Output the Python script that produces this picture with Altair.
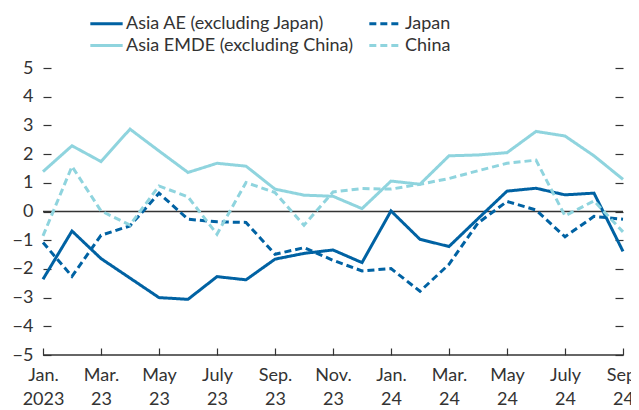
import json
import altair as alt
import pandas as pd

series = ["Asia AE (excluding Japan)", "Japan", "Asia EMDE (excluding China)", "China"]
colors = ["#0062a3", "#0062a3", "#8fd4de", "#8fd4de"]
dashes = [[1, 0], [7, 4], [1, 0], [7, 4]]

months = list(range(21))  # Jan 2023 .. Sep 2024
tick_values = [0, 2, 4, 6, 8, 10, 12, 14, 16, 18, 20]
tick_labels = ["Jan.|2023", "Mar.|23", "May|23", "July|23", "Sep.|23", "Nov.|23",
               "Jan.|24", "Mar.|24", "May|24", "July|24", "Sep.|24"]

asia_ae = [-2.36, -0.68, -1.64, -2.32, -3.0, -3.06, -2.27, -2.38, -1.66, -1.46, -1.34,
           -1.78, 0.02, -0.97, -1.22, -0.25, 0.71, 0.81, 0.58, 0.64, -1.39]
japan = [-1.08, -2.26, -0.83, -0.5, 0.64, -0.27, -0.36, -0.38, -1.49, -1.26, -1.7,
         -2.07, -1.99, -2.78, -1.84, -0.4, 0.35, 0.05, -0.88, -0.17, -0.27]
asia_emde = [1.39, 2.29, 1.74, 2.87, 2.11, 1.36, 1.68, 1.58, 0.78, 0.57, 0.53,
             0.1, 1.06, 0.95, 1.94, 1.97, 2.05, 2.79, 2.63, 1.94, 1.12]
china = [-0.85, 1.57, 0.02, -0.47, 0.89, 0.51, -0.79, 1.01, 0.66, -0.48, 0.68,
         0.8, 0.78, 0.95, 1.15, 1.42, 1.68, 1.79, -0.15, 0.37, -0.71]

values = [asia_ae, japan, asia_emde, china]
rows = []
for name, vals in zip(series, values):
    for m, v in zip(months, vals):
        rows.append({"series": name, "month": m, "value": v})
df = pd.DataFrame(rows)

rules_df = pd.DataFrame({"v": [0, -5]})

FONT = "Lato"
TEXT = "#333333"
FS = 18

label_expr = "split(" + json.dumps(tick_labels).replace('"', "'") + "[datum.value/2], '|')"

x_scale = alt.Scale(domain=[0, 20], nice=False, zero=False)
y_scale = alt.Scale(domain=[-5, 5], nice=False, zero=False)

legend = alt.Legend(
    title=None, orient="none", legendX=51, legendY=-57, columns=2,
    direction="horizontal",
    symbolType="M-1.47,0L1.47,0", symbolSize=484, symbolStrokeWidth=3,
    labelFontSize=FS, labelFont=FONT, labelColor=TEXT, labelLimit=400,
    labelOffset=7, columnPadding=9, rowPadding=0, padding=0,
)

lines = alt.Chart(df).mark_line(strokeWidth=3).encode(
    x=alt.X("month:Q", scale=x_scale, axis=alt.Axis(
        values=tick_values, labelExpr=label_expr, title=None, grid=False,
        domain=False, offset=-7, tickSize=7, tickColor=TEXT, tickWidth=1.2,
        labelFlush=False, labelOverlap=False, labelPadding=11,
        labelFontSize=FS, labelFont=FONT, labelColor=TEXT, labelLineHeight=24)),
    y=alt.Y("value:Q", scale=y_scale, axis=alt.Axis(
        orient="left", values=list(range(-5, 6)), format="d", title=None, grid=False,
        domain=False, offset=-8, tickSize=8, tickColor=TEXT, tickWidth=1.2,
        labelPadding=10, labelFontSize=FS, labelFont=FONT, labelColor=TEXT)),
    color=alt.Color("series:N", scale=alt.Scale(domain=series, range=colors), legend=legend),
    strokeDash=alt.StrokeDash("series:N", scale=alt.Scale(domain=series, range=dashes), legend=legend),
    order=alt.Order("month:Q"),
)

rules = alt.Chart(rules_df).mark_rule(color=TEXT, strokeWidth=1.3).encode(
    y=alt.Y("v:Q", scale=y_scale, axis=alt.Axis(
        orient="right", values=list(range(-5, 6)), labels=False, title=None, grid=False,
        domain=False, offset=-8, tickSize=8, tickColor=TEXT, tickWidth=1.2)),
)

chart = alt.layer(rules, lines).resolve_axis(y="independent").properties(
    width=580, height=287,
    autosize=alt.AutoSizeParams(type="none"),
    padding={"left": 35, "top": 60, "right": 8, "bottom": 54},
).configure_view(stroke=None)

chart.save("out.html", embed_options={"renderer": "svg", "actions": False})
